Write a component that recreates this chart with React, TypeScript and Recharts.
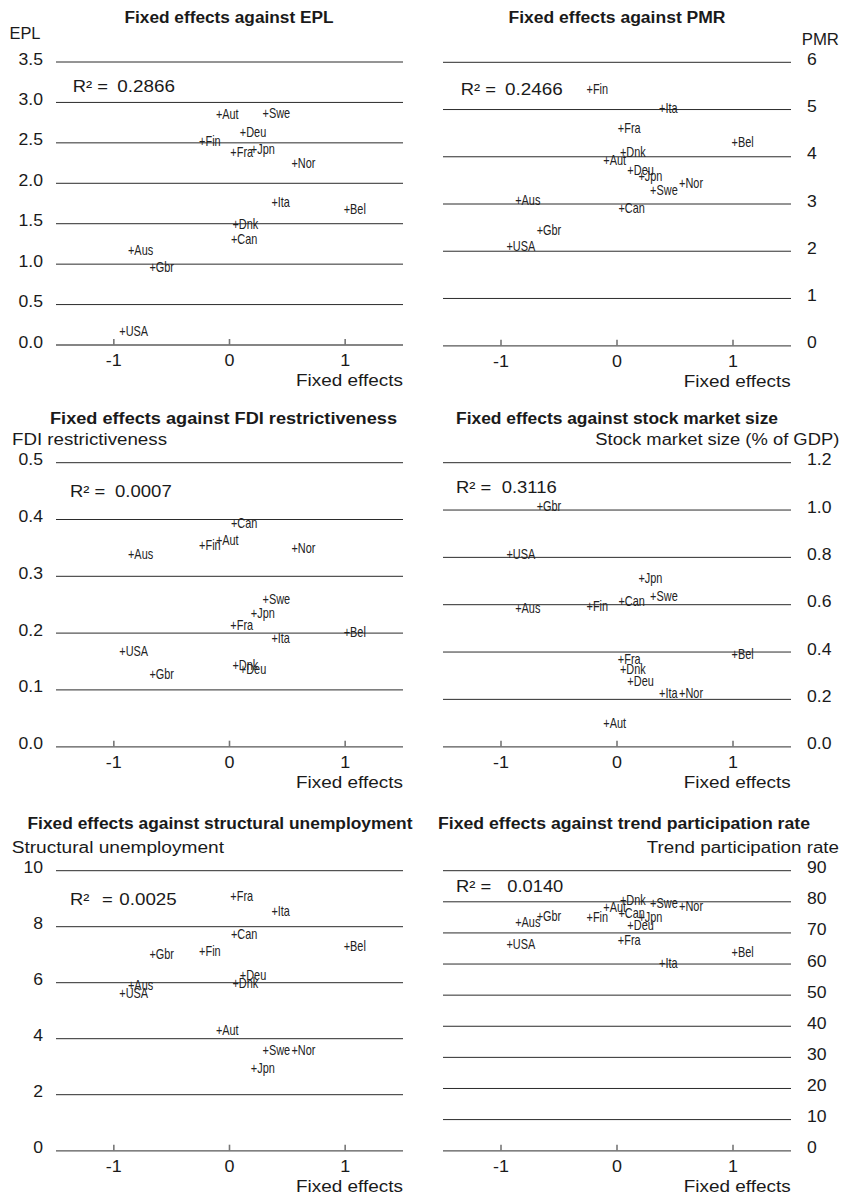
import React from 'react';
import { ScatterChart, Scatter, XAxis, YAxis, CartesianGrid } from 'recharts';

// ---------------- DATA ----------------
const countries = ['Aus', 'Aut', 'Bel', 'Can', 'Dnk', 'Deu', 'Fin', 'Fra', 'Gbr', 'Ita', 'Jpn', 'Nor', 'Swe', 'USA'];
const fixedEffects = [-0.85, -0.09, 1.015, 0.04, 0.053, 0.117, -0.235, 0.035, -0.665, 0.39, 0.212, 0.563, 0.313, -0.925];

const eplValues = [1.17, 2.86, 1.68, 1.31, 1.5, 2.63, 2.52, 2.39, 0.96, 1.76, 2.42, 2.25, 2.87, 0.17];
const pmrValues = [3.09, 3.93, 4.3, 2.91, 4.09, 3.71, 5.42, 4.61, 2.44, 5.03, 3.58, 3.44, 3.3, 2.11];
const fdiValues = [0.339, 0.363, 0.202, 0.394, 0.144, 0.136, 0.355, 0.214, 0.128, 0.191, 0.235, 0.349, 0.26, 0.168];
const stockValues = [0.585, 0.099, 0.392, 0.613, 0.327, 0.275, 0.592, 0.369, 1.017, 0.226, 0.711, 0.226, 0.634, 0.814];
const unempValues = [5.9, 4.31, 7.29, 7.74, 5.97, 6.27, 7.13, 9.1, 7.02, 8.57, 2.94, 3.6, 3.6, 5.62];
const partValues = [73.6, 78.2, 63.8, 76.3, 80.6, 72.5, 75.2, 67.7, 75.4, 60.2, 75.0, 78.7, 79.7, 66.3];

const xTicks = [-1, 0, 1];
const eplTicks = [0, 0.5, 1, 1.5, 2, 2.5, 3, 3.5];
const pmrTicks = [0, 1, 2, 3, 4, 5, 6];
const fdiTicks = [0, 0.1, 0.2, 0.3, 0.4, 0.5];
const stockTicks = [0, 0.2, 0.4, 0.6, 0.8, 1.0, 1.2];
const unempTicks = [0, 2, 4, 6, 8, 10];
const partTicks = [0, 10, 20, 30, 40, 50, 60, 70, 80, 90];

const titles = [
  'Fixed effects against EPL',
  'Fixed effects against PMR',
  'Fixed effects against FDI restrictiveness',
  'Fixed effects against stock market size',
  'Fixed effects against structural unemployment',
  'Fixed effects against trend participation rate',
];
const yTitles = ['EPL', 'PMR', 'FDI restrictiveness', 'Stock market size (% of GDP)', 'Structural unemployment', 'Trend participation rate'];
const r2Values = ['0.2866', '0.2466', '0.0007', '0.3116', '0.0025', '0.0140'];
const xTitle = 'Fixed effects';

// ---------------- STYLE / LAYOUT ----------------
const FONT = "'Liberation Sans', Arial, Helvetica, sans-serif";
const TEXT = '#1a1a1a';

const build = (vals: number[]) => countries.map((c, i) => ({ name: c, x: fixedEffects[i], y: vals[i] }));

const layouts = [
  { vals: eplValues, ticks: eplTicks, digits: 1, side: 'left', left: 0, top: 0, w: 420, h: 390, mt: 62, mb: 15, axisY: 345,
    title: { cx: 229, y: 23, len: 209 }, yt: { x: 9.5, y: 39.3, len: 31, anchor: 'start' }, r2: { x: 72.7, vx: 117.3, vlen: 57.7, y: 91.7, eqGap: false } },
  { vals: pmrValues, ticks: pmrTicks, digits: 0, side: 'right', left: 420, top: 0, w: 422, h: 390, mt: 62.3, mb: 14.3, axisY: 345.7,
    title: { cx: 617, y: 23, len: 217 }, yt: { x: 839, y: 45, len: 37.3, anchor: 'end' }, r2: { x: 460.7, vx: 505, vlen: 57.7, y: 95, eqGap: false } },
  { vals: fdiValues, ticks: fdiTicks, digits: 1, side: 'left', left: 0, top: 390, w: 420, h: 400, mt: 72.7, mb: 13.3, axisY: 746.7,
    title: { cx: 223.5, y: 423.5, len: 347 }, yt: { x: 12, y: 445, len: 155, anchor: 'start' }, r2: { x: 70, vx: 115, vlen: 56.7, y: 496.7, eqGap: false } },
  { vals: stockValues, ticks: stockTicks, digits: 1, side: 'right', left: 420, top: 390, w: 422, h: 400, mt: 72.7, mb: 13.3, axisY: 746.7,
    title: { cx: 617, y: 423.5, len: 322 }, yt: { x: 839.3, y: 445, len: 244, anchor: 'end' }, r2: { x: 456, vx: 501.7, vlen: 55, y: 493.3, eqGap: false } },
  { vals: unempValues, ticks: unempTicks, digits: 0, side: 'left', left: 0, top: 790, w: 420, h: 408, mt: 80.7, mb: 17.3, axisY: 1150.7,
    title: { cx: 220, y: 828.5, len: 385 }, yt: { x: 11.7, y: 853, len: 212.3, anchor: 'start' }, r2: { x: 70, vx: 119.3, vlen: 57.4, y: 905, eqGap: true } },
  { vals: partValues, ticks: partTicks, digits: 0, side: 'right', left: 420, top: 790, w: 422, h: 408, mt: 80.7, mb: 17.3, axisY: 1150.7,
    title: { cx: 624, y: 828.5, len: 372 }, yt: { x: 839, y: 853, len: 192.3, anchor: 'end' }, r2: { x: 456, vx: 507.3, vlen: 56, y: 892.3, eqGap: false } },
];

const Mark = (props: any) => {
  const { cx, cy, payload } = props;
  if (cx == null || cy == null) return null;
  return (
    <text transform={`translate(${cx - 3.2},${cy + 4.8}) scale(0.78,1)`} fontSize={14} fontFamily={FONT} fill="#222">
      {'+' + payload.name}
    </text>
  );
};

const XTick = (props: any) => {
  const { x, y, payload } = props;
  return (
    <g>
      <line x1={x} x2={x} y1={y} y2={y - 6} stroke="#777" strokeWidth={1.6} />
      <text transform={`translate(${x},${y + 21}) scale(1.12,1)`} textAnchor="middle" fontSize={16} fontFamily={FONT} fill={TEXT}>
        {String(payload.value)}
      </text>
    </g>
  );
};

const makeYTick = (side: string, digits: number) => (props: any) => {
  const { x, y, payload } = props;
  const tx = side === 'left' ? x - 13 : x + 16;
  return (
    <text transform={`translate(${tx},${y + 2.5}) scale(1.1,1)`} textAnchor={side === 'left' ? 'end' : 'start'} fontSize={16} fontFamily={FONT} fill={TEXT}>
      {Number(payload.value).toFixed(digits)}
    </text>
  );
};

const Panel = ({ L }: { L: any }) => {
  const isLeft = L.side === 'left';
  const margin = isLeft
    ? { left: 16, right: 17, top: L.mt, bottom: L.mb }
    : { left: 23, right: 11, top: L.mt, bottom: L.mb };
  const data = build(L.vals);
  const maxT = L.ticks[L.ticks.length - 1];
  return (
    <div style={{ position: 'absolute', left: L.left, top: L.top, width: L.w, height: L.h }}>
      <ScatterChart width={L.w} height={L.h} margin={margin}>
        <CartesianGrid vertical={false} stroke="#2b2b2b" strokeWidth={1} />
        <XAxis
          dataKey="x"
          type="number"
          domain={[-1.5, 1.5]}
          ticks={xTicks}
          interval={0}
          height={30}
          tickSize={0}
          tickMargin={0}
          tickLine={false}
          axisLine={{ stroke: '#808080', strokeWidth: 1.6 }}
          tick={XTick}
        />
        <YAxis
          dataKey="y"
          type="number"
          orientation={isLeft ? 'left' : 'right'}
          domain={[0, maxT]}
          ticks={L.ticks}
          interval={0}
          width={40}
          tickSize={0}
          tickMargin={0}
          tickLine={false}
          axisLine={false}
          tick={makeYTick(L.side, L.digits)}
        />
        <Scatter data={data} isAnimationActive={false} shape={Mark} />
      </ScatterChart>
    </div>
  );
};

const Overlay = () => (
  <svg width={842} height={1198} style={{ position: 'absolute', left: 0, top: 0, pointerEvents: 'none' }}>
    {layouts.map((L, i) => (
      <g key={i}>
        <text
          x={L.title.cx}
          y={L.title.y}
          textAnchor="middle"
          fontSize={16}
          fontWeight="bold"
          fontFamily={FONT}
          fill={TEXT}
          textLength={L.title.len}
          lengthAdjust="spacingAndGlyphs"
        >
          {titles[i]}
        </text>
        <text
          x={L.yt.x}
          y={L.yt.y}
          textAnchor={L.yt.anchor}
          fontSize={16}
          fontFamily={FONT}
          fill={TEXT}
          textLength={L.yt.len}
          lengthAdjust="spacingAndGlyphs"
        >
          {yTitles[i]}
        </text>
        <text
          x={L.side === 'left' ? 403 : 790.7}
          y={L.axisY + 41}
          textAnchor="end"
          fontSize={17}
          fontFamily={FONT}
          fill={TEXT}
          textLength={107}
          lengthAdjust="spacingAndGlyphs"
        >
          {xTitle}
        </text>
        <text transform={`translate(${L.r2.x},${L.r2.y}) scale(1.15,1)`} fontSize={16} fontFamily={FONT} fill={TEXT}>
          {L.r2.eqGap ? 'R²' : 'R² ='}
        </text>
        {L.r2.eqGap ? (
          <text transform={`translate(${L.r2.x + 32},${L.r2.y}) scale(1.15,1)`} fontSize={16} fontFamily={FONT} fill={TEXT}>
            =
          </text>
        ) : null}
        <text x={L.r2.vx} y={L.r2.y} fontSize={16} fontFamily={FONT} fill={TEXT} textLength={L.r2.vlen} lengthAdjust="spacingAndGlyphs">
          {r2Values[i]}
        </text>
      </g>
    ))}
  </svg>
);

export default function App() {
  return (
    <div style={{ position: 'absolute', left: 0, top: 0, width: 842, height: 1198, background: '#fff', overflow: 'hidden' }}>
      {layouts.map((L, i) => (
        <Panel key={i} L={L} />
      ))}
      <Overlay />
    </div>
  );
}
